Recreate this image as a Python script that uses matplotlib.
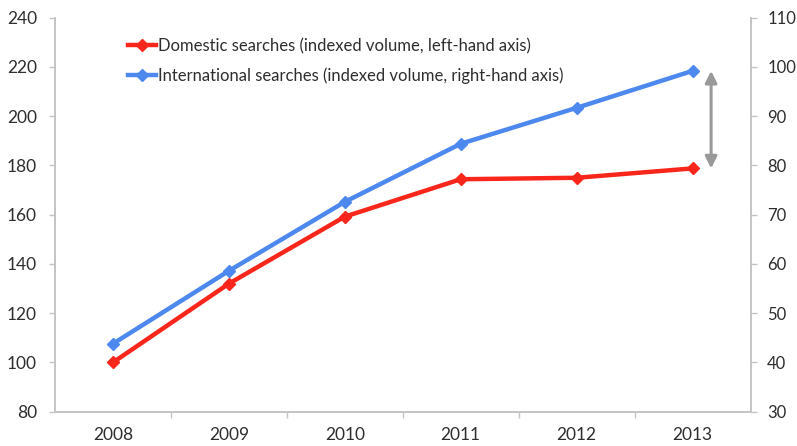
import matplotlib
matplotlib.use("Agg")
import matplotlib.pyplot as plt
from matplotlib.lines import Line2D

plt.rcParams['font.family'] = ['Lato', 'DejaVu Sans']

years = ['2008', '2009', '2010', '2011', '2012', '2013']
domestic = [100, 132, 159.2, 174.4, 175, 178.8]        # left-hand axis
international = [43.8, 58.6, 72.6, 84.4, 91.7, 99.2]   # right-hand axis

left_ticks = [80, 100, 120, 140, 160, 180, 200, 220, 240]
right_ticks = [30, 40, 50, 60, 70, 80, 90, 100, 110]

red = '#F8261B'
blue = '#4C88EE'
spine_col = '#C4C4C4'
text_col = '#2E2E2E'

fig = plt.figure(figsize=(7.97, 4.46), dpi=100)
ax = fig.add_axes([55 / 797, 1 - 411.7 / 446, (750.5 - 55) / 797, (411.7 - 17.7) / 446])
ax2 = ax.twinx()

x = list(range(len(years)))
ax.plot(x, domestic, color=red, lw=3.2, marker='D', ms=6, zorder=3)
ax2.plot(x, international, color=blue, lw=3.2, marker='D', ms=6, zorder=3)

ax.set_xlim(-0.5, len(years) - 0.5)
ax.set_ylim(left_ticks[0], left_ticks[-1])
ax2.set_ylim(right_ticks[0], right_ticks[-1])
ax.set_yticks(left_ticks)
ax2.set_yticks(right_ticks)

# category labels in the middle of each slot, tick marks on the slot boundaries
ax.set_xticks(x)
ax.set_xticklabels(years)
ax.set_xticks([i + 0.5 for i in x[:-1]], minor=True)
ax.tick_params(axis='x', which='major', length=0, pad=11, labelsize=12.5, labelcolor=text_col)
ax.tick_params(axis='x', which='minor', length=4, width=1, color=spine_col, direction='out')
ax.tick_params(axis='y', length=4, width=1, color=spine_col, pad=9, labelsize=12.5, labelcolor=text_col)
ax2.tick_params(axis='y', length=4, width=1, color=spine_col, pad=8, labelsize=12, labelcolor=text_col)

for a in (ax, ax2):
    for side in ('left', 'right', 'bottom'):
        a.spines[side].set_color(spine_col)
        a.spines[side].set_linewidth(1.2)
    a.spines['top'].set_visible(False)
    a.patch.set_visible(False)

# gap between the two series in the final year
xa = x[-1] + 0.16
ax2.annotate('', xy=(xa, international[-1]), xycoords=ax2.transData,
             xytext=(xa, domestic[-1]), textcoords=ax.transData,
             arrowprops=dict(arrowstyle='<|-|>,head_length=0.7,head_width=0.35',
                             color='#999999', lw=2.2, shrinkA=0, shrinkB=0))

handles = [
    Line2D([], [], color=red, lw=3.2, marker='D', ms=6),
    Line2D([], [], color=blue, lw=3.2, marker='D', ms=6),
]
labels = ['Domestic searches (indexed volume, left-hand axis)',
          'International searches (indexed volume, right-hand axis)']
leg = ax2.legend(handles, labels, loc='upper left', bbox_to_anchor=(0.096, 0.965),
                 frameon=False, fontsize=12, handlelength=1.65, handletextpad=0.1,
                 labelspacing=0.8, borderaxespad=0)
for t in leg.get_texts():
    t.set_color(text_col)

fig.savefig('out.png', dpi=100)
